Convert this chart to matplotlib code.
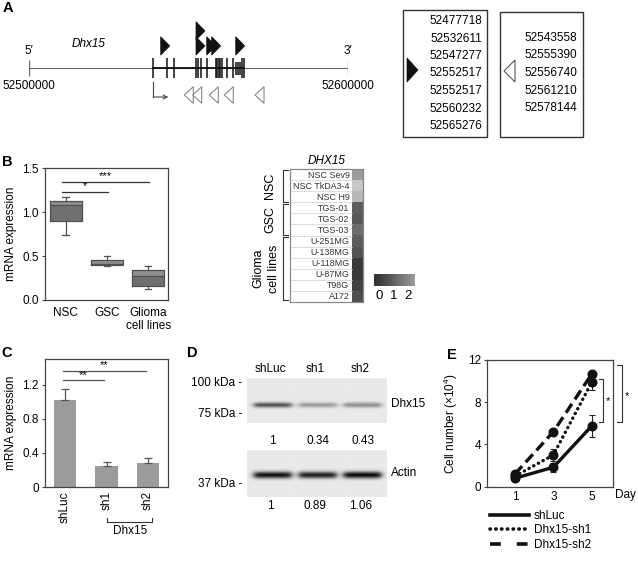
import numpy as np
import matplotlib
matplotlib.use("Agg")
import matplotlib.pyplot as plt
from matplotlib.patches import Polygon, Rectangle
from matplotlib.colors import LinearSegmentedColormap
from matplotlib.lines import Line2D
import matplotlib.transforms as mtransforms

plt.rcParams['font.family'] = ['Liberation Sans', 'DejaVu Sans']
plt.rcParams['font.size'] = 8.5
plt.rcParams['mathtext.default'] = 'regular'
plt.rcParams['axes.linewidth'] = 0.9
plt.rcParams['axes.edgecolor'] = '#444444'

# ---------------- data ----------------
# A: gene structure (genomic coordinates)
gene_start, gene_end = 52500000, 52600000
exons = [52538970, 52543170, 52545550, 52552350, 52553070, 52553920, 52555705,
         52558620, 52559090, 52559560, 52560030, 52560410, 52562160, 52564040,
         52566925, 52567400]
short_exons = [52564890, 52565515, 52566140]
fwd_sites = [52541285, 52552350, 52552350, 52555705, 52557270, 52564800]
rev_sites = [52548680, 52551316, 52556520, 52561220, 52570850]
fwd_list = ['52477718', '52532611', '52547277', '52552517', '52552517',
            '52560232', '52565276']
rev_list = ['52543558', '52555390', '52556740', '52561210', '52578144']

# B: qPCR box plot
box_groups = ['NSC', 'GSC', 'Glioma\ncell lines']
box_whislo = [0.745, 0.39, 0.13]
box_q1 = [0.905, 0.40, 0.155]
box_med = [1.08, 0.41, 0.275]
box_q3 = [1.125, 0.46, 0.34]
box_whishi = [1.17, 0.50, 0.385]
box_sig = [(1, 3, 1.344, '***'), (1, 2, 1.231, '*')]

# B: heat map
heat_lines = ['NSC Sev9', 'NSC TkDA3-4', 'NSC H9', 'TGS-01', 'TGS-02', 'TGS-03',
              'U-251MG', 'U-138MG', 'U-118MG', 'U-87MG', 'T98G', 'A172']
heat_vals = [2.5, 3.6, 3.2, 0.95, 0.8, 1.3, 0.95, 0.7, 0.0, 0.05, 0.3, 0.55]

# C: knockdown mRNA
kd_labels = ['shLuc', 'sh1', 'sh2']
kd_mrna = [1.02, 0.245, 0.28]
kd_err = [0.13, 0.045, 0.065]
kd_sig = [(1, 3, 1.365, '**'), (1, 2, 1.25, '**')]

# D: western blot quantification
blot_lanes = ['shLuc', 'sh1', 'sh2']
dhx_quant = [1, 0.34, 0.43]
actin_quant = [1, 0.89, 1.06]

# E: growth curves
days = [1, 3, 5]
grow_names = ['shLuc', 'Dhx15-sh1', 'Dhx15-sh2']
grow_shluc = [0.8, 1.84, 5.75]
grow_sh1 = [1.0, 3.0, 9.89]
grow_sh2 = [1.2, 5.2, 10.67]
err_shluc = [0.12, 0.43, 1.0]
err_sh1 = [0.12, 0.55, 0.7]
err_sh2 = [0.12, 0.15, 0.2]

# ---------------- layout helpers ----------------
W, H = 638, 563
fig = plt.figure(figsize=(W / 100, H / 100), dpi=100)


def add_ax(x0, y0, x1, y1):
    return fig.add_axes([x0 / W, 1 - y1 / H, (x1 - x0) / W, (y1 - y0) / H])


def style_ticks(ax):
    ax.tick_params(direction='out', length=2.5, width=0.8, color='#444444',
                   labelsize=8.5, pad=2)


# ---------------- A ----------------
axA = add_ax(29, 0, 348, 110)
axA.set_xlim(gene_start, gene_end)
axA.set_ylim(110, 0)
axA.axis('off')
bp_px = (gene_end - gene_start) / 319.0
axA.plot([gene_start, gene_end], [67.7, 67.7], color='#666666', lw=0.8)
axA.plot([min(exons), max(exons)], [67.7, 67.7], color='#111111', lw=1.3)
axA.vlines([gene_start, gene_end], 60, 76, color='#666666', lw=0.9)
axA.vlines(exons, 58, 78, color='#111111', lw=1.1)
axA.vlines(short_exons, 62, 75, color='#111111', lw=1.1)
seen = {}
for g in fwd_sites:
    lvl = seen.get(g, 0)
    seen[g] = lvl + 1
    top = 36.7 - 15 * lvl
    axA.add_patch(Polygon([[g, top], [g + 9 * bp_px, top + 9.2], [g, top + 18.4]],
                          closed=True, fc='#111111', ec='#111111', lw=0.5))
for g in rev_sites:
    axA.add_patch(Polygon([[g, 95], [g + 9 * bp_px, 86.7], [g + 9 * bp_px, 103.3]],
                          closed=True, fc='white', ec='#888888', lw=0.8))
tss = min(exons)
axA.plot([tss, tss], [81.7, 97], color='#444444', lw=0.8)
axA.annotate('', xy=(tss + 15 * bp_px, 97), xytext=(tss, 97),
             arrowprops=dict(arrowstyle='->', color='#444444', lw=0.8,
                             shrinkA=0, shrinkB=0, mutation_scale=7))

# ---------------- B box plot ----------------
axB = add_ax(45, 168.3, 168.3, 300)
pos = np.arange(1, len(box_groups) + 1)
axB.bar(pos, np.array(box_q3) - np.array(box_med), bottom=box_med, width=0.78,
        color='#8f8f8f', zorder=1)
axB.bar(pos, np.array(box_med) - np.array(box_q1), bottom=box_q1, width=0.78,
        color='#6f6f6f', zorder=1)
stats = [dict(med=m, q1=a, q3=b, whislo=lo, whishi=hi)
         for m, a, b, lo, hi in zip(box_med, box_q1, box_q3, box_whislo, box_whishi)]
axB.bxp(stats, positions=pos, widths=0.78, showfliers=False, capwidths=0.16,
        boxprops=dict(color='#505050', lw=0.9),
        whiskerprops=dict(color='#505050', lw=0.9),
        capprops=dict(color='#505050', lw=0.9),
        medianprops=dict(color='#505050', lw=0.9))
for a, b, y, s in box_sig:
    axB.plot([a - 0.08, b + 0.02], [y, y], color='#333333', lw=0.9)
    axB.text((a + b) / 2 - 0.03, y + 0.01, s, ha='center', va='bottom', fontsize=8)
axB.set_xlim(0.5, 3.49)
axB.set_ylim(0, 1.5)
axB.set_yticks([0, 0.5, 1.0, 1.5])
axB.set_yticklabels(['0.0', '0.5', '1.0', '1.5'])
axB.set_xticks(pos)
axB.set_xticklabels(box_groups, linespacing=1.15)
style_ticks(axB)
axB.tick_params(axis='x', length=0, pad=5)
axB.set_ylabel('mRNA expression', labelpad=4)

# ---------------- B heat map ----------------
heat_cmap = LinearSegmentedColormap.from_list('hg', ['#383838', '#d8d8d8'])
axH = add_ax(290, 169.3, 362.7, 301.7)
axH.set_xlim(0, 72.7)
axH.set_ylim(len(heat_lines), 0)
axH.imshow(np.array(heat_vals)[:, None], extent=(61.7, 72.7, len(heat_lines), 0),
           cmap=heat_cmap, vmin=0, vmax=4, aspect='auto', interpolation='nearest')
axH.hlines(np.arange(1, len(heat_lines)), 0, 61.7, color='#dddddd', lw=0.8)
for i, name in enumerate(heat_lines):
    axH.text(59.5, i + 0.55, name, ha='right', va='center', fontsize=6.4,
             color='#333333')
axH.set_xticks([])
axH.set_yticks([])
for sp in axH.spines.values():
    sp.set_color('#888888')

axCB = add_ax(374.3, 274.3, 415, 286)
cb_x = np.linspace(-0.32, 2.52, 120)
axCB.imshow(cb_x[None, :], extent=(-0.32, 2.52, 0, 1), cmap=heat_cmap, vmin=0,
            vmax=4, aspect='auto')
axCB.set_xlim(-0.32, 2.52)
axCB.set_yticks([])
axCB.set_xticks([0, 1, 2])
axCB.tick_params(length=0, labelsize=9.5, pad=3)
for sp in axCB.spines.values():
    sp.set_visible(False)

# ---------------- C ----------------
axC = add_ax(45, 359, 168, 487)
xc = np.arange(1, len(kd_labels) + 1)
axC.bar(xc, kd_mrna, width=0.55, color='#9b9b9b')
axC.errorbar(xc, kd_mrna, yerr=[np.zeros(len(kd_err)), kd_err], fmt='none',
             ecolor='#555555', elinewidth=0.9, capsize=3, capthick=0.9)
for a, b, y, s in kd_sig:
    axC.plot([a - 0.05, b - 0.05], [y, y], color='#555555', lw=0.9)
    axC.text((a + b) / 2 - 0.05, y + 0.005, s, ha='center', va='bottom', fontsize=8)
axC.set_xlim(0.52, 3.48)
axC.set_ylim(0, 1.5)
axC.set_yticks([0, 0.4, 0.8, 1.2])
axC.set_yticklabels(['0', '0.4', '0.8', '1.2'])
axC.set_xticks(xc)
axC.set_xticklabels(kd_labels, rotation=90)
style_ticks(axC)
axC.tick_params(axis='x', length=0, pad=3)
axC.set_ylabel('mRNA expression', labelpad=4)

# ---------------- D ----------------
def blot_image(quant, ny, yc, sig, amp, bg=234.0):
    xs = np.linspace(0.43, 3.54, 320)
    ys = np.arange(ny) + 0.5
    img = np.full((ny, xs.size), bg)
    for i, q in enumerate(quant):
        px = 1 / (1 + np.exp((np.abs(xs - (i + 1)) - 0.42) / 0.04))
        py = np.exp(-((ys - yc) / sig) ** 2)
        img -= amp * q ** 0.6 * np.outer(py, px)
    return np.clip(img, 0, 255)


axD1 = add_ax(247, 378, 387, 423)
axD1.imshow(blot_image(dhx_quant, 45, 27, 2.6, 150), cmap='gray', vmin=0, vmax=255,
            extent=(0.43, 3.54, 45, 0), aspect='auto')
axD1.axis('off')
axD2 = add_ax(247, 450, 387, 496.7)
axD2.imshow(blot_image(actin_quant, 47, 25, 3.4, 215), cmap='gray', vmin=0,
            vmax=255, extent=(0.43, 3.54, 47, 0), aspect='auto')
axD2.axis('off')
tr1 = mtransforms.blended_transform_factory(axD1.transData, axD1.transAxes)
tr2 = mtransforms.blended_transform_factory(axD2.transData, axD2.transAxes)
for i, lab in enumerate(blot_lanes):
    axD1.text(i + 1 - 0.05, 1.06, lab, transform=tr1, ha='center', va='bottom')
    axD1.text(i + 1, -0.4, f'{dhx_quant[i]:g}', transform=tr1, ha='center',
              va='center')
    axD2.text(i + 1 - 0.05, -0.19, f'{actin_quant[i]:g}', transform=tr2,
              ha='center', va='center')

# ---------------- E ----------------
axE = add_ax(487.3, 360, 613.3, 486.7)
styles = [dict(ls='-'), dict(ls=(0, (0.1, 1.5)), dash_capstyle='round'),
          dict(ls=(0, (3.2, 1.6)))]
series = [(grow_shluc, err_shluc), (grow_sh1, err_sh1), (grow_sh2, err_sh2)]
for (vals, errs), st in zip(series, styles):
    axE.errorbar(days, vals, yerr=errs, fmt='none', ecolor='#222222', elinewidth=0.8,
                 capsize=2.5, capthick=0.8, zorder=2)
    axE.plot(days, vals, color='#111111', lw=2.4, marker='o', ms=6.2, zorder=3,
             **st)
axE.set_xlim(-0.44, 6.125)
axE.set_ylim(0, 12)
axE.set_yticks([0, 4, 8, 12])
axE.set_xticks(days)
style_ticks(axE)
axE.tick_params(axis='x', length=0, pad=3)
axE.set_ylabel('Cell number (×10$^4$)', labelpad=6)
handles = [Line2D([], [], color='#111111', lw=2.6, **st) for st in styles]
handles[2].set_linestyle((0, (3.0, 4.4)))
fig.legend(handles, grow_names, loc='upper left', frameon=False,
           bbox_to_anchor=(490 / W, 1 - 510 / H), handlelength=3.3,
           handletextpad=0.4, labelspacing=0.2, borderpad=0, borderaxespad=0,
           fontsize=8.5)

# ---------------- overlay: frames, brackets and labels ----------------
ov = fig.add_axes([0, 0, 1, 1])
ov.set_xlim(0, W)
ov.set_ylim(H, 0)
ov.axis('off')

for lab, x, y in [('A', 8, 8), ('B', 7, 162), ('C', 7, 353), ('D', 192, 353),
                  ('E', 452, 355)]:
    ov.text(x, y, lab, fontsize=10.5, fontweight='bold', ha='center', va='center')

# A labels
ov.text(29, 51, '5′', ha='center', va='center')
ov.text(348, 51, '3′', ha='center', va='center')
ov.text(29, 86, f'{gene_start}', ha='center', va='center')
ov.text(348, 86, f'{gene_end}', ha='center', va='center')
ov.text(89, 44, 'Dhx15', ha='center', va='center', style='italic')

# A list boxes
ov.add_patch(Rectangle((403, 10), 84, 127, fill=False, ec='#333333', lw=1.0))
ov.add_patch(Rectangle((500, 12), 83, 125, fill=False, ec='#333333', lw=1.0))
for i, s in enumerate(fwd_list):
    ov.text(482, 21 + i * 17.5, s, ha='right', va='center')
for i, s in enumerate(rev_list):
    ov.text(577, 38 + i * 17.5, s, ha='right', va='center')
ov.add_patch(Polygon([[407, 58], [418, 70], [407, 82]], closed=True, fc='#111111',
                     ec='#111111', lw=0.5))
ov.add_patch(Polygon([[504, 71], [515, 60], [515, 82]], closed=True, fc='white',
                     ec='#555555', lw=0.8))

# B heat map annotations
ov.text(327, 161, 'DHX15', ha='center', va='center', style='italic')
for y0, y1, lab, xt in [(170, 202, 'NSC', 270), (204, 235, 'GSC', 270),
                        (237, 300, 'Glioma\ncell lines', 266)]:
    ov.plot([288, 283, 283, 288], [y0, y0, y1, y1], color='#333333', lw=0.8)
    ov.text(xt, (y0 + y1) / 2, lab, rotation=90, ha='center', va='center',
            fontsize=9, linespacing=1.35)

# C bracket
ov.plot([107.3, 107.3, 151.7, 151.7], [517.5, 521.7, 521.7, 517.5],
        color='#333333', lw=0.8)
ov.text(130, 531, 'Dhx15', ha='center', va='center')

# D size markers and band names
for y, s in [(383, '100 kDa -'), (414, '75 kDa -'), (484, '37 kDa -')]:
    ov.text(242, y, s, ha='right', va='center')
ov.text(391, 404, 'Dhx15', ha='left', va='center')
ov.text(391, 473, 'Actin', ha='left', va='center')

# E significance brackets and day label
ov.plot([599, 603.3, 603.3, 599], [379.3, 379.3, 422.3, 422.3], color='#333333',
        lw=0.8)
ov.text(608.3, 401, '*', ha='center', va='center', fontsize=8)
ov.plot([616.7, 621.7, 621.7, 616.7], [365, 365, 422.3, 422.3], color='#333333',
        lw=0.8)
ov.text(627.3, 396, '*', ha='center', va='center', fontsize=8)
ov.text(625, 495, 'Day', ha='center', va='center')

fig.savefig('out.png', dpi=100)
